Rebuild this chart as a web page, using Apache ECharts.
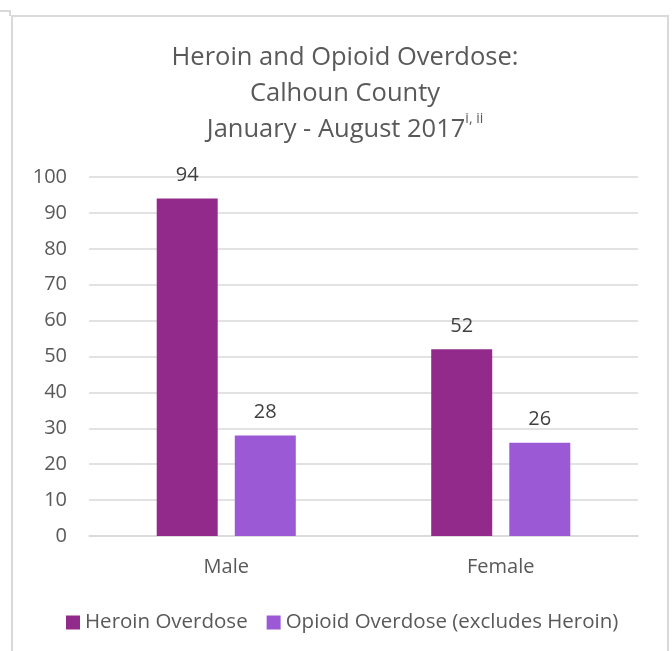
<!DOCTYPE html>
<html>
<head>
<meta charset="utf-8">
<script src="https://cdn.jsdelivr.net/npm/echarts@6.0.0/dist/echarts.min.js"></script>
<style>
  html, body { margin: 0; padding: 0; background: #fff; }
  #root { width: 672px; height: 651px; }
</style>
</head>
<body>
<div id="root"></div>
<script>
  // chart data
  const categories = ['Male', 'Female'];
  const heroinValues = [94, 52];
  const opioidValues = [28, 26];
  const seriesNames = ['Heroin Overdose', 'Opioid Overdose (excludes Heroin)'];
  const yTicks = [0, 10, 20, 30, 40, 50, 60, 70, 80, 90, 100];

  const font = '"Open Sans", sans-serif';
  const textColor = '#595959';

  const chart = echarts.init(document.getElementById('root'));
  chart.setOption({
    animation: false,
    textStyle: { fontFamily: font },
    graphic: [{
      type: 'rect',
      shape: { x: 12, y: 16, width: 656, height: 660 },
      style: { fill: null, stroke: '#d9d9d9', lineWidth: 2 },
      silent: true
    }, {
      type: 'polyline',
      shape: { points: [[0, 11], [10, 11], [10, 16]] },
      style: { fill: null, stroke: '#d9d9d9', lineWidth: 2 },
      silent: true
    }],
    title: {
      text: 'Heroin and Opioid Overdose:\nCalhoun County\nJanuary - August 2017{sup|i, ii}',
      left: 340,
      textAlign: 'center',
      top: 35,
      textStyle: {
        color: textColor,
        fontSize: 25.5,
        fontWeight: 'normal',
        lineHeight: 36,
        rich: {
          sup: { fontSize: 14, color: textColor, verticalAlign: 'top', padding: [0, 0, 12, 0] }
        }
      }
    },
    legend: {
      top: 607,
      left: 61,
      itemWidth: 14,
      itemHeight: 14,
      itemGap: 19,
      icon: 'rect',
      textStyle: { color: textColor, fontSize: 20.5, fontFamily: font },
      data: seriesNames
    },
    grid: { left: 89, right: 34, top: 177, bottom: 115, containLabel: false },
    xAxis: {
      type: 'category',
      data: categories,
      axisLine: { lineStyle: { color: '#d9d9d9', width: 1.5 } },
      axisTick: { show: false },
      axisLabel: { color: textColor, fontSize: 20, margin: 21, fontFamily: font }
    },
    yAxis: {
      type: 'value',
      min: yTicks[0],
      max: yTicks[yTicks.length - 1],
      interval: 10,
      axisLine: { show: false },
      axisTick: { show: false },
      splitLine: { lineStyle: { color: '#d9d9d9', width: 1.5 } },
      axisLabel: { color: textColor, fontSize: 20, margin: 22, fontFamily: font }
    },
    series: [{
      name: seriesNames[0],
      type: 'bar',
      data: heroinValues,
      barWidth: 61,
      barGap: '28%',
      itemStyle: { color: '#922a8c' },
      label: { show: true, position: 'top', distance: 13, color: '#404040', fontSize: 20, fontFamily: font }
    }, {
      name: seriesNames[1],
      type: 'bar',
      data: opioidValues,
      barWidth: 61,
      itemStyle: { color: '#9b59d6' },
      label: { show: true, position: 'top', distance: 13, color: '#404040', fontSize: 20, fontFamily: font }
    }]
  });
</script>
</body>
</html>
